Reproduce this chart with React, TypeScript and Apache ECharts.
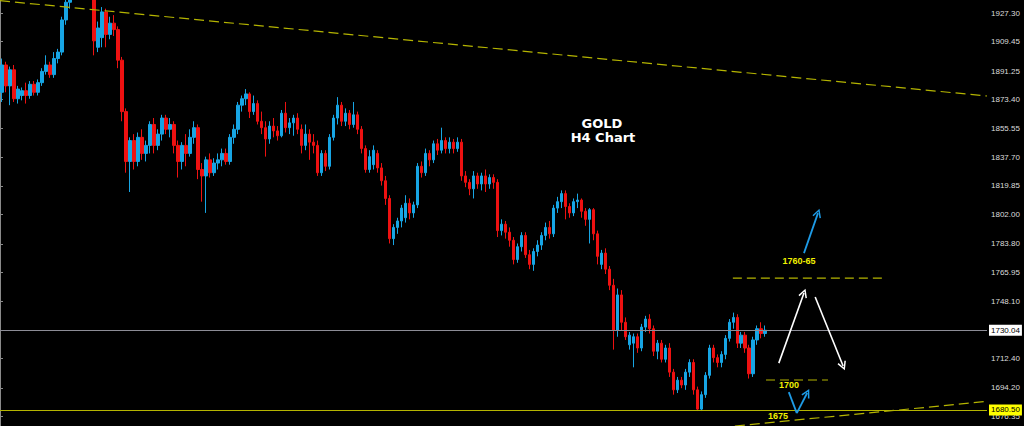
import React, { useEffect, useRef } from "react";
import * as echarts from "echarts";

// ---- Candle data (H4 bars, left to right) ----
const OPEN = [
  1878, 1895, 1882, 1892, 1874, 1876, 1879, 1876,
  1883, 1878, 1884, 1891, 1895, 1889, 1899, 1903,
  1923, 1934, 1945, 1955, 1950, 1958, 1948, 1942,
  1906, 1912, 1928, 1914, 1921, 1917, 1898, 1866,
  1835, 1848, 1835, 1850, 1840, 1845, 1858, 1845,
  1852, 1862, 1855, 1858, 1845, 1835, 1845, 1840,
  1850, 1856, 1830, 1826, 1836, 1828, 1834, 1836,
  1840, 1835, 1850, 1855, 1870, 1874, 1877, 1866,
  1871, 1860, 1856, 1849, 1857, 1854, 1851, 1865,
  1856, 1859, 1862, 1855, 1845, 1852, 1847, 1845,
  1828, 1840, 1832, 1850, 1862, 1870, 1860, 1865,
  1858, 1864, 1855, 1843, 1830, 1833, 1840, 1831,
  1823, 1812, 1787, 1794, 1798, 1800, 1809, 1803,
  1808, 1832, 1828, 1840, 1836, 1846, 1842, 1848,
  1843, 1847, 1843, 1847, 1826, 1822, 1818, 1826,
  1821, 1826, 1821, 1825, 1822, 1792, 1796, 1791,
  1786, 1774, 1782, 1789, 1777, 1771, 1779, 1783,
  1789, 1794, 1790, 1806, 1810, 1815, 1807, 1803,
  1810, 1811, 1804, 1799, 1805, 1790, 1771, 1778,
  1768, 1758, 1730, 1752, 1735, 1721, 1722, 1726,
  1719, 1732, 1737, 1731, 1717, 1722, 1712, 1719,
  1704, 1693, 1699, 1696, 1704, 1710, 1693, 1681,
  1690, 1702, 1719, 1713, 1710, 1715, 1725, 1735,
  1738, 1722, 1727, 1719, 1703, 1724, 1731, 1728,
];
const CLOSE = [
  1895, 1882, 1892, 1874, 1880, 1879, 1876, 1883,
  1878, 1884, 1891, 1895, 1889, 1899, 1903, 1923,
  1934, 1945, 1955, 1950, 1958, 1948, 1942, 1910,
  1918, 1928, 1914, 1921, 1917, 1898, 1866, 1835,
  1848, 1835, 1850, 1840, 1845, 1858, 1845, 1852,
  1862, 1855, 1858, 1845, 1835, 1845, 1840, 1850,
  1856, 1830, 1826, 1836, 1828, 1834, 1836, 1840,
  1835, 1850, 1855, 1870, 1874, 1877, 1866, 1871,
  1860, 1856, 1849, 1857, 1854, 1851, 1865, 1856,
  1859, 1862, 1855, 1845, 1852, 1847, 1845, 1828,
  1840, 1832, 1850, 1862, 1870, 1860, 1865, 1858,
  1864, 1855, 1843, 1830, 1838, 1842, 1831, 1823,
  1812, 1787, 1794, 1798, 1806, 1809, 1803, 1808,
  1832, 1828, 1840, 1836, 1846, 1842, 1848, 1843,
  1847, 1843, 1847, 1826, 1822, 1818, 1826, 1821,
  1826, 1821, 1825, 1822, 1792, 1796, 1791, 1786,
  1774, 1782, 1789, 1777, 1771, 1779, 1783, 1789,
  1794, 1790, 1806, 1810, 1815, 1807, 1803, 1810,
  1811, 1804, 1799, 1805, 1790, 1776, 1778, 1768,
  1758, 1730, 1752, 1735, 1726, 1727, 1726, 1719,
  1732, 1737, 1731, 1717, 1722, 1712, 1719, 1704,
  1693, 1699, 1696, 1704, 1710, 1693, 1681, 1690,
  1702, 1719, 1713, 1710, 1715, 1725, 1735, 1738,
  1722, 1727, 1719, 1703, 1724, 1731, 1728, 1730.04,
];
const LOW = [
  1872, 1878, 1870, 1872, 1871, 1873, 1871, 1874,
  1876, 1876, 1882, 1889, 1887, 1887, 1896, 1901,
  1920, 1930, 1940, 1945, 1946, 1943, 1938, 1901,
  1903, 1906, 1906, 1911, 1913, 1893, 1860, 1828,
  1816, 1830, 1832, 1836, 1835, 1840, 1840, 1842,
  1848, 1852, 1850, 1840, 1825, 1830, 1832, 1838,
  1846, 1824, 1810, 1803, 1825, 1826, 1830, 1832,
  1833, 1833, 1846, 1852, 1866, 1870, 1862, 1864,
  1858, 1852, 1838, 1846, 1850, 1848, 1850, 1853,
  1852, 1851, 1852, 1840, 1842, 1836, 1840, 1826,
  1826, 1829, 1830, 1848, 1858, 1857, 1857, 1855,
  1856, 1852, 1840, 1828, 1828, 1830, 1828, 1820,
  1808, 1784, 1783, 1790, 1794, 1797, 1799, 1800,
  1806, 1825, 1826, 1832, 1834, 1839, 1840, 1840,
  1840, 1840, 1841, 1823, 1819, 1814, 1812, 1818,
  1817, 1816, 1818, 1818, 1788, 1789, 1787, 1782,
  1771, 1772, 1779, 1775, 1768, 1767, 1776, 1780,
  1786, 1787, 1788, 1803, 1806, 1799, 1800, 1801,
  1806, 1800, 1795, 1784, 1786, 1771, 1768, 1765,
  1755, 1718, 1726, 1730, 1724, 1718, 1707, 1716,
  1717, 1729, 1728, 1714, 1712, 1710, 1710, 1701,
  1690, 1691, 1694, 1693, 1701, 1690, 1679.8, 1679.8,
  1688, 1700, 1710, 1707, 1707, 1712, 1723, 1731,
  1719, 1719, 1716, 1700, 1701, 1721, 1725, 1726,
];
const HIGH = [
  1899, 1897, 1894, 1895, 1882, 1881, 1884, 1885,
  1885, 1886, 1893, 1901, 1897, 1903, 1905, 1925,
  1940, 1950, 1960, 1962, 1965, 1962, 1952, 1946,
  1922, 1931, 1930, 1925, 1926, 1919, 1900, 1868,
  1850, 1852, 1853, 1855, 1848, 1860, 1862, 1855,
  1864, 1864, 1862, 1860, 1848, 1847, 1852, 1855,
  1860, 1858, 1834, 1838, 1840, 1837, 1840, 1843,
  1843, 1852, 1858, 1872, 1876, 1880, 1878, 1876,
  1873, 1866, 1860, 1860, 1862, 1857, 1867, 1872,
  1862, 1864, 1865, 1858, 1858, 1855, 1852, 1848,
  1842, 1842, 1852, 1864, 1875, 1872, 1868, 1867,
  1872, 1866, 1857, 1845, 1842, 1845, 1842, 1834,
  1826, 1814, 1796, 1800, 1808, 1814, 1812, 1810,
  1834, 1835, 1843, 1842, 1848, 1849, 1856, 1850,
  1850, 1849, 1850, 1849, 1829, 1824, 1829, 1828,
  1828, 1830, 1827, 1827, 1824, 1799, 1798, 1794,
  1788, 1784, 1791, 1791, 1780, 1781, 1786, 1791,
  1797, 1798, 1808, 1813, 1817, 1817, 1809, 1812,
  1815, 1812, 1806, 1806, 1806, 1792, 1780, 1781,
  1770, 1762, 1756, 1755, 1738, 1729, 1728, 1728,
  1734, 1739, 1740, 1733, 1724, 1724, 1721, 1722,
  1706, 1701, 1701, 1706, 1712, 1712, 1695, 1692,
  1704, 1721, 1721, 1715, 1717, 1727, 1737, 1741,
  1740, 1729, 1729, 1721, 1726, 1733, 1735, 1733,
];

// ---- Axis ----
const Y_TICKS = [
  1676.35, 1694.2, 1712.4, 1748.1, 1765.95, 1783.8, 1802.0,
  1819.85, 1837.7, 1855.55, 1873.4, 1891.25, 1909.45, 1927.3,
];
const Y_MIN = 1670.5;
const Y_MAX = 1935.4;
const SLOTS = 247; // bar slots across the plot (incl. empty right margin)

// ---- Price levels ----
const CURRENT_PRICE = 1730.04;
const SUPPORT_PRICE = 1680.5;

// ---- Annotations (x in bar slots, y in price) ----
const UPPER_TREND = [[0, 1935.0], [247, 1875.7]];
const LOWER_TREND = [[183.9, 1670.5], [247, 1685.8]];
const TARGET_LINE = [[183.4, 1762.5], [221, 1762.5]];
const LEVEL_1700_LINE = [[191.7, 1699.1], [207.2, 1699.1]];
const WHITE_UP = [[194.9, 1709.6], [201.2, 1753.2]];
const WHITE_DOWN = [[204.0, 1750.7], [211.0, 1707.8]];
const BLUE_UP = [[201.2, 1778.0], [204.7, 1802.9]];
const BLUE_V = [[197.4, 1691.6], [199.4, 1678.5], [202.0, 1691.0]];

const UP_COLOR = "#17a5e4";
const DOWN_COLOR = "#ee1111";
const OLIVE = "#b4b400";
const CHEVRON = "path://M5,0L10,9L8.5,9.8L5,3.2L1.5,9.8L0,9Z";

export default function App() {
  const ref = useRef<HTMLDivElement>(null);

  useEffect(() => {
    if (!ref.current) return;
    const chart = echarts.init(ref.current, undefined, { renderer: "svg" });
    const cats = OPEN.map((_, i) => String(i));
    while (cats.length < SLOTS) cats.push(String(cats.length));
    const candles = OPEN.map((o, i) => [o, CLOSE[i], LOW[i], HIGH[i]]);

    const seg = (pts: number[][], color: string, width: number, end: any) => [
      { coord: pts[0], lineStyle: { color, width, type: "solid" } },
      { coord: pts[1], symbol: end },
    ];

    const priceLabel = (bg: string) => ({
      show: true,
      position: "end",
      distance: 2,
      backgroundColor: bg,
      color: "#000",
      fontSize: 8,
      fontFamily: "Liberation Sans",
      padding: [2, 2, 1, 2],
      formatter: (p: any) => Number(p.value).toFixed(2),
    });

    chart.setOption({
      animation: false,
      backgroundColor: "#000000",
      grid: { left: 0, right: 37, top: 0, bottom: 0, containLabel: false },
      xAxis: [
        { type: "category", data: cats, show: false, boundaryGap: true },
        { type: "value", min: 0, max: SLOTS, show: false },
      ],
      yAxis: {
        type: "value",
        position: "right",
        min: Y_MIN,
        max: Y_MAX,
        splitLine: { show: false },
        axisLine: { show: true, lineStyle: { color: "#8a8a8a", width: 1 } },
        axisTick: {
          show: true,
          length: 3,
          customValues: Y_TICKS,
          lineStyle: { color: "#8a8a8a" },
        },
        axisLabel: {
          customValues: Y_TICKS,
          formatter: (v: number) => v.toFixed(2),
          color: "#dcdcdc",
          fontSize: 8,
          fontFamily: "Liberation Sans",
          margin: 4,
        },
      },
      series: [
        {
          type: "candlestick",
          xAxisIndex: 0,
          data: candles,
          barWidth: 3,
          clip: true,
          itemStyle: {
            color: UP_COLOR,
            color0: DOWN_COLOR,
            borderColor: UP_COLOR,
            borderColor0: DOWN_COLOR,
            borderWidth: 1,
          },
          markLine: {
            silent: true,
            symbol: ["none", "none"],
            data: [
              {
                yAxis: CURRENT_PRICE,
                lineStyle: { color: "#8c8c96", width: 1, type: "solid" },
                label: priceLabel("#ffffff"),
              },
              {
                yAxis: SUPPORT_PRICE,
                lineStyle: { color: OLIVE, width: 1, type: "solid" },
                label: priceLabel("#ffff00"),
              },
            ],
          },
        },
        {
          type: "line",
          xAxisIndex: 1,
          data: UPPER_TREND,
          symbol: "none",
          silent: true,
          lineStyle: { color: OLIVE, width: 1.2, type: [10, 5] },
          markLine: {
            silent: true,
            symbol: ["none", CHEVRON],
            symbolSize: [9, 9],
            label: { show: false },
            data: [
              seg(WHITE_UP, "#ffffff", 1.6, CHEVRON),
              seg(WHITE_DOWN, "#ffffff", 1.6, CHEVRON),
              seg(BLUE_UP, "#1e9be6", 1.8, CHEVRON),
              seg([BLUE_V[0], BLUE_V[1]], "#1e9be6", 1.8, "none"),
              seg([BLUE_V[1], BLUE_V[2]], "#1e9be6", 1.8, CHEVRON),
            ],
          },
        },
        {
          type: "line",
          xAxisIndex: 1,
          data: LOWER_TREND,
          symbol: "none",
          silent: true,
          lineStyle: { color: OLIVE, width: 1.2, type: [10, 5] },
        },
        {
          type: "line",
          xAxisIndex: 1,
          data: TARGET_LINE,
          symbol: "none",
          silent: true,
          lineStyle: { color: OLIVE, width: 1.2, type: [9, 5] },
        },
        {
          type: "line",
          xAxisIndex: 1,
          data: LEVEL_1700_LINE,
          symbol: "none",
          silent: true,
          lineStyle: { color: OLIVE, width: 1.2, type: [9, 5] },
        },
      ],
      graphic: [
        {
          type: "text",
          x: 602,
          y: 123,
          style: {
            text: "GOLD",
            fill: "#ffffff",
            font: "bold 13px 'DejaVu Sans'",
            align: "center",
            verticalAlign: "middle",
          },
        },
        {
          type: "text",
          x: 603,
          y: 137,
          style: {
            text: "H4 Chart",
            fill: "#ffffff",
            font: "bold 13px 'DejaVu Sans'",
            align: "center",
            verticalAlign: "middle",
          },
        },
        {
          type: "text",
          x: 799,
          y: 261,
          style: {
            text: "1760-65",
            fill: "#f2f200",
            font: "bold 9px 'Liberation Sans'",
            align: "center",
            verticalAlign: "middle",
          },
        },
        {
          type: "text",
          x: 789,
          y: 385,
          style: {
            text: "1700",
            fill: "#f2f200",
            font: "bold 9px 'Liberation Sans'",
            align: "center",
            verticalAlign: "middle",
          },
        },
        {
          type: "text",
          x: 778,
          y: 416,
          style: {
            text: "1675",
            fill: "#f2f200",
            font: "bold 9px 'Liberation Sans'",
            align: "center",
            verticalAlign: "middle",
          },
        },
      ],
    });
    return () => chart.dispose();
  }, []);

  return (
    <div
      ref={ref}
      style={{
        position: "fixed",
        left: 0,
        top: 0,
        width: 1024,
        height: 426,
        background: "#000",
      }}
    />
  );
}
